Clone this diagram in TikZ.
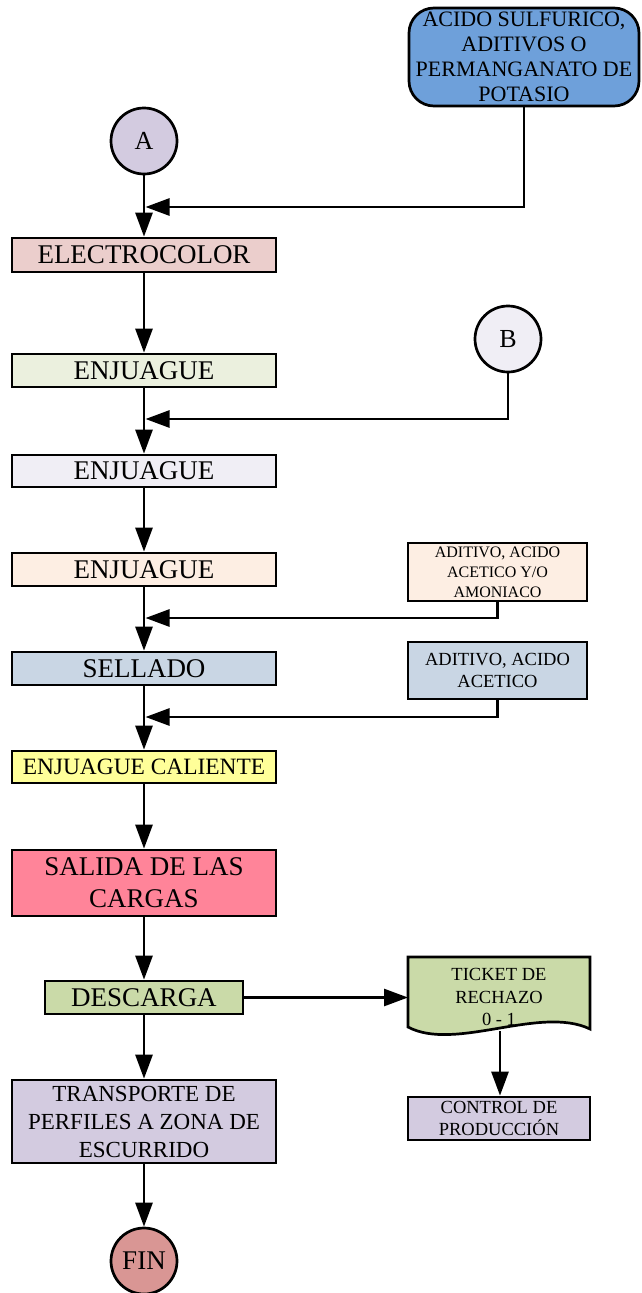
\documentclass[tikz,border=0pt]{standalone}
\usepackage{fontspec}
\setmainfont{Liberation Serif}
\usetikzlibrary{arrows.meta}
\definecolor{cblue}{RGB}{110,160,218}
\definecolor{cpurp}{RGB}{211,203,224}
\definecolor{celec}{RGB}{235,206,204}
\definecolor{cgreenl}{RGB}{235,240,222}
\definecolor{cgrey}{RGB}{240,238,245}
\definecolor{cpeach}{RGB}{253,238,227}
\definecolor{csteel}{RGB}{201,214,228}
\definecolor{cyell}{RGB}{255,255,153}
\definecolor{cpink}{RGB}{255,132,153}
\definecolor{cgreen}{RGB}{202,218,168}
\definecolor{cfin}{RGB}{217,150,148}
\tikzset{
  box/.style={draw, line width=2.7pt, rectangle, inner sep=0pt, align=center},
  mainbox/.style={box, minimum width=264pt},
  circ/.style={draw, line width=2.7pt, circle, inner sep=0pt, minimum size=66pt},
  arr/.style={line width=2.7pt, -{Triangle[length=24pt,width=17pt]}},
  ln/.style={line width=2.7pt},
  fA/.style={font=\fontsize{27}{32}\selectfont},
  fB/.style={font=\fontsize{22}{25}\selectfont},
  fE/.style={font=\fontsize{26}{28}\selectfont},
  fC/.style={font=\fontsize{18.5}{22.5}\selectfont},
  fD/.style={font=\fontsize{16}{20}\selectfont},
}
\begin{document}
\begin{tikzpicture}[x=1pt,y=-1pt]
\useasboundingbox (0,0) rectangle (641,1293);
% top right supply
\node[box, fill=cblue, rounded corners=25pt, minimum width=230pt, minimum height=98pt, fB] (acid) at (524,57) {ACIDO SULFURICO,\\ADITIVOS O\\PERMANGANATO DE\\POTASIO};
\node[circ, fill=cpurp, fE] (A) at (144,141) {A};
\node[mainbox, fill=celec, minimum height=34pt, fA] (elec) at (144,255) {ELECTROCOLOR};
\node[mainbox, fill=cgreenl, minimum height=33pt, fA] (enj1) at (144,370.5) {ENJUAGUE};
\node[circ, fill=cgrey, fE] (B) at (508,339) {B};
\node[mainbox, fill=cgrey, minimum height=32pt, fA] (enj2) at (144,471) {ENJUAGUE};
\node[mainbox, fill=cpeach, minimum height=33pt, fA] (enj3) at (144,569.5) {ENJUAGUE};
\node[box, fill=cpeach, minimum width=179pt, minimum height=58pt, fD] (ad1) at (497.5,572) {ADITIVO, ACIDO\\ACETICO Y/O\\AMONIACO};
\node[mainbox, fill=csteel, minimum height=33pt, fA] (sell) at (144,668.5) {SELLADO};
\node[box, fill=csteel, minimum width=179pt, minimum height=57pt, fC] (ad2) at (497.5,670.5) {ADITIVO, ACIDO\\ACETICO};
\node[mainbox, fill=cyell, minimum height=32pt, font=\fontsize{23.4}{26}\selectfont] (cal) at (144,767) {ENJUAGUE CALIENTE};
\node[mainbox, fill=cpink, minimum height=66pt, fA] (sal) at (144,883) {SALIDA DE LAS\\CARGAS};
\node[box, fill=cgreen, minimum width=198pt, minimum height=33pt, fA] (desc) at (144,997.5) {DESCARGA};
\node[mainbox, fill=cpurp, minimum height=83pt, font=\fontsize{23}{28}\selectfont] (tra) at (144,1121.5) {TRANSPORTE DE\\PERFILES A ZONA DE\\ESCURRIDO};
\node[circ, fill=cfin, fA] (fin) at (144,1261) {FIN};
% ticket (document shape)
\draw[ln, fill=cgreen] (408,957) -- (590,957) -- (590,1029)
  .. controls (540,1005) and (455,1052) .. (408,1027) -- cycle;
\node[fC, align=center] (tick) at (499,997) {TICKET DE\\RECHAZO\\0 - 1};
\coordinate (tkw) at (408,997.5);
\coordinate (tks) at (500,1031);
\node[box, fill=cpurp, minimum width=182pt, minimum height=43pt, fC] (ctrl) at (499,1118.5) {CONTROL DE\\PRODUCCIÓN};
% merge points
\coordinate (m1) at (145.5,207);
\coordinate (m2) at (145.5,419);
\coordinate (m3) at (145.5,618);
\coordinate (m4) at (145.5,717);
% main flow
\draw[arr] (A) -- (elec);
\draw[arr] (elec) -- (enj1);
\draw[arr] (enj1) -- (enj2);
\draw[arr] (enj2) -- (enj3);
\draw[arr] (enj3) -- (sell);
\draw[arr] (sell) -- (cal);
\draw[arr] (cal) -- (sal);
\draw[arr] (sal) -- (desc);
\draw[arr] (desc) -- (tra);
\draw[arr] (tra) -- (fin);
% side inputs
\draw[arr] (acid.south) |- (m1);
\draw[arr] (B.south) |- (m2);
\draw[arr] (ad1.south) |- (m3);
\draw[arr] (ad2.south) |- (m4);
\draw[arr] (desc.east) -- (tkw);
\draw[arr] (tks) -- (ctrl.north -| tks);
\end{tikzpicture}
\end{document}
